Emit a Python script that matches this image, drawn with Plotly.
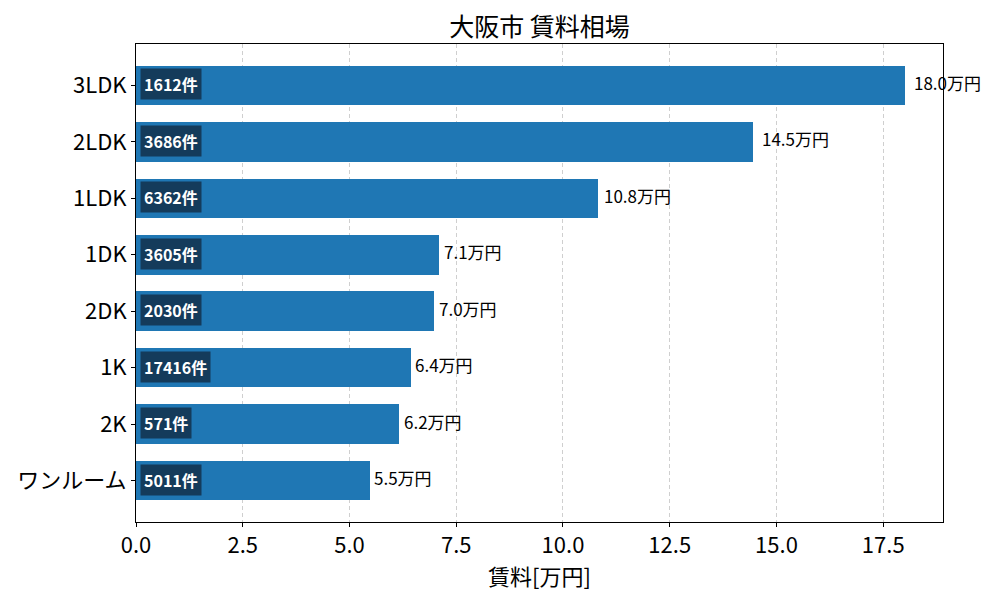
import plotly.graph_objects as go

# 間取りごとの賃料と件数
layouts = ['ワンルーム', '2K', '1K', '2DK', '1DK', '1LDK', '2LDK', '3LDK']
rents = [5.47, 6.16, 6.43, 6.97, 7.09, 10.81, 14.46, 18.0]
counts = [5011, 571, 17416, 2030, 3605, 6362, 3686, 1612]

FONT = 'Noto Sans CJK JP'

fig = go.Figure(go.Bar(
    x=rents,
    y=layouts,
    orientation='h',
    width=0.7,
    marker=dict(color='#1f77b4', line=dict(width=0)),
    hoverinfo='skip',
))

annotations = []
for lay, r, c in zip(layouts, rents, counts):
    # 賃料ラベル（棒の右）
    annotations.append(dict(
        x=r * 1.01, y=lay, xref='x', yref='y', yshift=3,
        text=f'{r:.1f}万円', showarrow=False, xanchor='left',
        font=dict(family=FONT, size=17, color='black'),
    ))
    # 件数ラベル（棒の左端）
    annotations.append(dict(
        x=0, y=lay, xref='x', yref='y', xshift=4, yshift=1,
        text=f'<b>{c}件</b>', showarrow=False, xanchor='left',
        font=dict(family=FONT, size=16, color='white'),
        bgcolor='#143b5b', borderpad=3,
    ))

# ページ本体の余白(8px)ぶんを差し引いたサイズ
fig.update_layout(
    width=992, height=592,
    paper_bgcolor='white', plot_bgcolor='white',
    margin=dict(l=128, r=57, t=36, b=78),
    font=dict(family=FONT, color='black'),
    title=dict(text='大阪市 賃料相場', xref='paper', x=0.5, xanchor='center',
               y=0.968, yanchor='middle', font=dict(family=FONT, size=25)),
    annotations=annotations,
    showlegend=False,
    bargap=0,
)
fig.update_xaxes(
    range=[0, 18.9], dtick=2.5, tickformat='.1f',
    showgrid=True, gridcolor='#cfcfcf', griddash='4px,3px', gridwidth=1,
    showline=True, linecolor='black', linewidth=1, mirror=True,
    ticks='outside', ticklen=4, tickcolor='black',
    tickfont=dict(family=FONT, size=22),
    title=dict(text='賃料[万円]', font=dict(family=FONT, size=22), standoff=4),
    zeroline=False, automargin=False,
)
fig.update_yaxes(
    range=[-0.735, 7.735],
    showgrid=False,
    showline=True, linecolor='black', linewidth=1, mirror=True,
    ticks='outside', ticklen=4, tickcolor='black',
    tickfont=dict(family=FONT, size=22),
    automargin=False,
)

fig.write_html('out.html')
